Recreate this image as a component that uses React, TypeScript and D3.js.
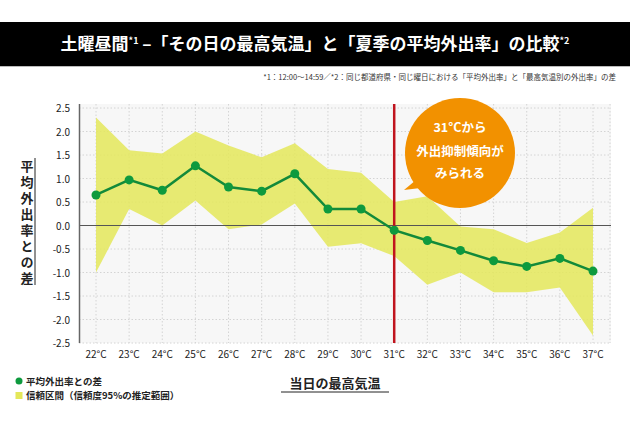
import React from "react";
import * as d3 from "d3";

const temps = ["22","23","24","25","26","27","28","29","30","31","32","33","34","35","36","37"];
const diff = [0.65,0.97,0.75,1.27,0.82,0.73,1.1,0.35,0.35,-0.1,-0.32,-0.53,-0.75,-0.87,-0.7,-0.97];
const upper = [2.3,1.6,1.53,2.0,1.7,1.45,1.75,1.2,1.12,0.5,0.62,-0.02,-0.08,-0.37,-0.15,0.38];
const lower = [-1.0,0.35,0.0,0.53,-0.08,0.02,0.47,-0.45,-0.38,-0.65,-1.26,-1.0,-1.42,-1.42,-1.32,-2.34];
const yTicks = [2.5,2.0,1.5,1.0,0.5,0.0,-0.5,-1.0,-1.5,-2.0,-2.5];

const F = "'Noto Sans CJK JP', 'Noto Sans', sans-serif";

export default function App() {
  const W = 630, H = 430;
  const x = d3.scalePoint<string>().domain(temps).range([96, 593]);
  const y = d3.scaleLinear().domain([-2.5, 2.5]).range([343, 108]);
  const area = d3.area<number>().x((_, i) => x(temps[i])!).y0((_, i) => y(lower[i])).y1((d) => y(d));
  const line = d3.line<number>().x((_, i) => x(temps[i])!).y((d) => y(d));
  const vx = x("31")!;
  return (
    <svg width={W} height={H} style={{ position: "absolute", left: 0, top: 0, fontFamily: F }}>
      <rect width={W} height={H} fill="#fff" />
      <rect x={0} y={22} width={W} height={44} fill="#000" />
      <line x1={0} x2={W} y1={66.5} y2={66.5} stroke="#bbb" />
      <text x={315} y={50} textAnchor="middle" fill="#fff" fontSize={17} fontWeight="bold">
        土曜昼間<tspan fontSize={9} dy={-6}>*1</tspan><tspan dy={6}> –「その日の最高気温」と「夏季の平均外出率」の比較</tspan><tspan fontSize={9} dy={-6}>*2</tspan>
      </text>
      <text x={616} y={80} textAnchor="end" fontSize={7.5} fill="#333">*1：12:00〜14:59／*2：同じ都道府県・同じ曜日における「平均外出率」と「最高気温別の外出率」の差</text>
      <rect x={79} y={104} width={532} height={239} fill="#f7f7f7" />
      {yTicks.map((t) => (
        <line key={t} x1={79} x2={611} y1={y(t)} y2={y(t)} stroke="#d4d4d4" strokeDasharray="1.5,2" />
      ))}
      {temps.map((t) => (
        <line key={t} x1={x(t)} x2={x(t)} y1={104} y2={343} stroke="#d4d4d4" strokeDasharray="1.5,2" />
      ))}
      <line x1={610} x2={610} y1={104} y2={343} stroke="#d4d4d4" strokeDasharray="1.5,2" />
      <path d={area(upper)!} fill="#e4e75a" fillOpacity={0.85} />
      <line x1={79} x2={611} y1={y(0)} y2={y(0)} stroke="#555" strokeWidth={1.2} />
      <line x1={79.5} x2={79.5} y1={104} y2={343} stroke="#666" strokeWidth={1.5} />
      {yTicks.map((t) => (
        <text key={t} x={70} y={y(t) + 4} textAnchor="end" fontSize={10} fill="#222">{t.toFixed(1)}</text>
      ))}
      {temps.map((t) => (
        <text key={t} x={x(t)} y={358} textAnchor="middle" fontSize={10} fill="#222">{t}°C</text>
      ))}
      <line x1={vx} x2={vx} y1={104} y2={343} stroke="#c0141e" strokeWidth={2.5} />
      <path d={line(diff)!} fill="none" stroke="#138a3a" strokeWidth={2.5} />
      {diff.map((d, i) => (
        <circle key={i} cx={x(temps[i])} cy={y(d)} r={4.5} fill="#0e9a3e" />
      ))}
      <path d="M404,190 L428,170 L445,185 Z" fill="#f29100" />
      <circle cx={460} cy={153} r={55} fill="#f29100" />
      <text textAnchor="middle" fill="#fff" fontSize={12.5} fontWeight="bold">
        <tspan x={460} y={132}>31°Cから</tspan>
        <tspan x={460} y={156}>外出抑制傾向が</tspan>
        <tspan x={460} y={178}>みられる</tspan>
      </text>
      <text x={28} y={160} fontSize={13} fontWeight="bold" fill="#222" style={{ writingMode: "vertical-rl" } as any}
        transform="translate(0,0)">
        {"平均外出率との差".split("").map((c, i) => (
          <tspan key={i} x={27} y={166 + i * 16} textAnchor="middle">{c}</tspan>
        ))}
      </text>
      <line x1={35} x2={35} y1={158} y2={285} stroke="#222" strokeWidth={1} />
      <text x={335} y={388} textAnchor="middle" fontSize={13} fontWeight="bold" fill="#222">当日の最高気温</text>
      <line x1={281} x2={389} y1={392} y2={392} stroke="#222" />
      <circle cx={19} cy={381} r={3.5} fill="#0e9a3e" />
      <text x={26} y={384.5} fontSize={9.5} fill="#222" fontWeight="bold">平均外出率との差</text>
      <rect x={15.5} y={392} width={7} height={7} fill="#e4e75a" />
      <text x={26} y={399} fontSize={9.5} fill="#222" fontWeight="bold">信頼区間（信頼度95%の推定範囲）</text>
    </svg>
  );
}
